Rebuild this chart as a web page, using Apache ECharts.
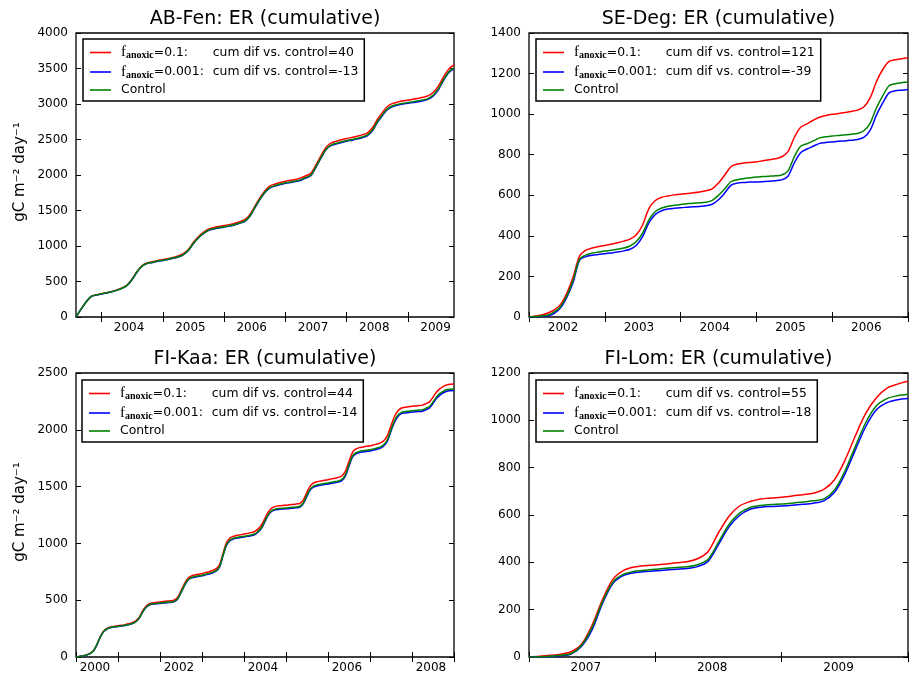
<!DOCTYPE html>
<html><head><meta charset="utf-8">
<script src="https://cdn.jsdelivr.net/npm/echarts@6/dist/echarts.min.js"></script>
<style>html,body{margin:0;padding:0;background:#fff}#c{width:912px;height:677px}</style>
</head><body><div id="c"></div><script>
// ---------------- data (monthly samples) ----------------
// AB-Fen: monthly from Aug 2003 (75 samples)
const abFenRed  = [0,111,216,292,314, 329,343,359,382,410,450,536,646,727,765,780,797, 809,824,840,859,891,952,1052,1133,1194,1239,1260,1275, 1288,1301,1317,1342,1368,1438,1559,1679,1780,1846,1873,1894, 1912,1925,1938,1959,1989,2025,2145,2276,2396,2452,2476,2496, 2514,2529,2545,2565,2591,2661,2782,2882,2968,3008,3029,3045, 3055,3068,3081,3095,3117,3168,3258,3389,3494,3550];
const abFenBlue = [0,110,215,289,311, 325,339,354,377,403,443,528,638,718,755,769,785, 797,811,827,844,876,936,1036,1116,1176,1220,1240,1255, 1267,1280,1295,1319,1344,1414,1534,1654,1753,1818,1845,1865, 1883,1895,1907,1927,1957,1992,2112,2242,2361,2416,2439,2459, 2476,2490,2505,2525,2550,2620,2740,2839,2924,2964,2984,2999, 3009,3020,3033,3046,3068,3118,3208,3337,3442,3497];
const abFenCtrl = [0,110,215,290,312, 326,340,355,378,405,445,530,640,720,757,772,788, 800,814,830,848,880,940,1040,1120,1180,1225,1245,1260, 1272,1285,1300,1325,1350,1420,1540,1660,1760,1825,1852,1872, 1890,1902,1915,1935,1965,2000,2120,2250,2370,2425,2448,2468, 2485,2500,2515,2535,2560,2630,2750,2850,2935,2975,2995,3010, 3020,3032,3045,3058,3080,3130,3220,3350,3455,3510];

// SE-Deg: monthly from Jan 2002 (61 samples)
const seDegRed  = [0,5,10,20,35,62,118,198,300,330,340,347, 353,359,366,374,384,405,455,535,574,590,597,602, 605,609,612,616,622,632,660,700,742,754,759,762, 765,770,775,780,790,815,885,935,952,970,985,993, 999,1003,1008,1013,1020,1035,1080,1160,1220,1260,1268,1273, 1278];
const seDegBlue = [0,1,3,6,18,45,98,172,280,298,304,308, 312,316,320,326,334,354,398,465,506,524,532,536, 539,541,543,545,548,556,578,612,650,660,663,665, 665,667,669,672,676,694,760,810,828,842,856,860, 863,866,868,871,875,885,920,995,1055,1105,1115,1118, 1121];
const seDegCtrl = [0,2,5,10,25,52,105,182,285,306,315,320, 325,329,334,340,350,372,415,480,520,537,546,551, 555,558,561,563,566,575,600,632,668,677,682,686, 690,692,694,696,700,720,790,842,854,868,883,888, 892,895,898,901,905,918,955,1030,1090,1140,1150,1155, 1158];

// FI-Kaa: monthly from Jan 2000 (109 samples)
const fiKaaRed  = [0,5,11,19,32,57,112,183,231,254,264,270, 275,279,285,292,301,317,347,403,446,470,477,481, 485,488,492,495,501,524,582,646,693,713,722,728, 735,743,751,761,776,812,912,1008,1048,1063,1071,1077, 1082,1088,1095,1104,1126,1162,1222,1280,1313,1326,1331,1334, 1336,1340,1343,1347,1353,1386,1452,1509,1534,1544,1550,1556, 1561,1568,1574,1581,1596,1636,1722,1802,1831,1843,1849,1855, 1859,1867,1875,1885,1906,1951,2037,2117,2167,2192,2198,2203, 2207,2210,2214,2217,2231,2246,2287,2332,2362,2383,2397,2402, 2404];
const fiKaaBlue = [0,5,10,18,29,54,109,179,227,249,259,265, 268,272,277,284,292,308,338,393,435,458,465,469, 472,475,478,480,486,508,566,629,676,696,704,709, 715,723,731,740,755,790,890,984,1024,1039,1046,1052, 1056,1062,1068,1076,1098,1133,1193,1251,1283,1296,1299,1302, 1304,1307,1310,1313,1319,1352,1416,1473,1497,1507,1513,1518, 1523,1529,1534,1540,1555,1595,1680,1760,1788,1799,1805,1810, 1814,1821,1829,1839,1859,1903,1988,2068,2118,2142,2148,2152, 2156,2158,2161,2164,2177,2192,2232,2277,2306,2326,2340,2344, 2346];
const fiKaaCtrl = [0,5,10,18,30,55,110,180,228,250,260,266, 270,274,279,286,294,310,340,395,438,461,468,472, 475,478,481,484,490,512,570,633,680,700,708,714, 720,728,736,745,760,795,895,990,1030,1045,1052,1058, 1062,1068,1075,1083,1105,1140,1200,1258,1290,1303,1307,1310, 1312,1315,1318,1321,1327,1360,1425,1482,1506,1516,1522,1527, 1532,1538,1544,1550,1565,1605,1690,1770,1798,1810,1816,1821, 1825,1832,1840,1850,1870,1915,2000,2080,2130,2154,2160,2164, 2168,2171,2174,2177,2190,2205,2245,2290,2320,2340,2354,2358, 2360];

// FI-Lom: monthly from Jan 2007 (37 samples)
const fiLomRed  = [0,3,7,12,22,55,135,245,330,366,380,386, 389,393,398,402,415,445,525,595,638,657,668,672, 675,680,686,692,708,748,830,935,1030,1095,1136,1153, 1165];
const fiLomBlue = [0,1,2,5,12,45,115,228,312,345,356,361, 364,368,371,374,382,404,475,550,598,624,633,636, 638,641,645,650,660,695,772,875,975,1045,1075,1087, 1092];
const fiLomCtrl = [0,1,3,7,15,50,125,235,318,350,362,367, 371,375,378,381,390,412,485,560,608,632,640,644, 646,650,655,660,668,705,785,890,992,1062,1092,1104, 1110];

// cumulative differences shown in the legends
const redDif  = [40, 121, 44, 55];
const blueDif = [-13, -39, -14, -18];
const siteNames = ['AB-Fen', 'SE-Deg', 'FI-Kaa', 'FI-Lom'];

// axis ticks (year starts) and year labels
const abFenTickYears = [2004,2005,2006,2007,2008,2009];
const abFenLabelYears = [2004,2005,2006,2007,2008,2009];
const seDegTickYears = [2002,2003,2004,2005,2006,2007];
const seDegLabelYears = [2002,2003,2004,2005,2006];
const fiKaaTickYears = [2000,2001,2002,2003,2004,2005,2006,2007,2008,2009];
const fiKaaLabelYears = [2000,2002,2004,2006,2008];
const fiLomTickYears = [2007,2008,2009,2010];
const fiLomLabelYears = [2007,2008,2009];

// --------------------------------------------------------------------------
const FONT = 'DejaVu Sans';
function monthGrid(startYear, startMonthIndex, n) {
  const a = [];
  for (let k = 0; k < n; k++) a.push(startYear + (startMonthIndex + k) / 12);
  return a;
}
function pairs(t, v) { return v.map((y, i) => [t[i], y]); }

const panels = [
  { grid:{left:76, top:33, width:378, height:284}, xMin:2003+7/12, xMax:2009.75, ticks:abFenTickYears, labels:abFenLabelYears,
    yMax:4000, yStep:500, t:monthGrid(2003,7,75), red:abFenRed, blue:abFenBlue, ctrl:abFenCtrl, leg:{left:83, top:39}, ylabel:true },
  { grid:{left:529, top:33, width:379, height:284}, xMin:2002, xMax:2007, ticks:seDegTickYears, labels:seDegLabelYears,
    yMax:1400, yStep:200, t:monthGrid(2002,0,61), red:seDegRed, blue:seDegBlue, ctrl:seDegCtrl, leg:{left:536, top:39}, ylabel:false },
  { grid:{left:76, top:373, width:378, height:284}, xMin:2000, xMax:2009, ticks:fiKaaTickYears, labels:fiKaaLabelYears,
    yMax:2500, yStep:500, t:monthGrid(2000,0,109), red:fiKaaRed, blue:fiKaaBlue, ctrl:fiKaaCtrl, leg:{left:82, top:380}, ylabel:true },
  { grid:{left:529, top:373, width:379, height:284}, xMin:2007, xMax:2010, ticks:fiLomTickYears, labels:fiLomLabelYears,
    yMax:1200, yStep:200, t:monthGrid(2007,0,37), red:fiLomRed, blue:fiLomBlue, ctrl:fiLomCtrl, leg:{left:536, top:380}, ylabel:false }
];

const grids = [], xAxes = [], yAxes = [], series = [], legends = [], graphics = [];
const legendText = {};
const rich = {
  p1: {width: 5, fontSize: 12.4, lineHeight: 16},
  p2: {width: 5, fontSize: 12.4, lineHeight: 16},
  f: {fontFamily: 'Liberation Serif', fontSize: 15, lineHeight: 16, color: '#000'},
  s: {fontFamily: 'Liberation Serif', fontSize: 10, lineHeight: 10, verticalAlign: 'bottom', fontWeight: 'bold', color: '#000'},
  v: {fontFamily: FONT, fontSize: 12.4, lineHeight: 16, width: 59, color: '#000'},
  t: {fontFamily: FONT, fontSize: 12.4, lineHeight: 16, color: '#000'}
};

panels.forEach((p, i) => {
  grids.push(Object.assign({show: true, borderColor: '#000', borderWidth: 1.3, backgroundColor: '#fff', containLabel: false}, p.grid));
  const tickStyle = {show: true, inside: true, length: 5, lineStyle: {color: '#000', width: 1}};
  xAxes.push({
    gridIndex: i, type: 'value', position: 'bottom', min: p.xMin, max: p.xMax,
    axisLine: {show: false}, splitLine: {show: false},
    axisTick: Object.assign({customValues: p.ticks}, tickStyle),
    axisLabel: {customValues: p.labels.map(y => y + 0.45), formatter: v => String(Math.floor(v)),
      color: '#000', fontFamily: FONT, fontSize: 12, margin: 5}
  });
  xAxes.push({
    gridIndex: i, type: 'value', position: 'top', min: p.xMin, max: p.xMax,
    axisLine: {show: false}, splitLine: {show: false}, axisLabel: {show: false},
    axisTick: Object.assign({customValues: p.ticks}, tickStyle)
  });
  yAxes.push({
    gridIndex: i, type: 'value', position: 'left', min: 0, max: p.yMax, interval: p.yStep,
    axisLine: {show: false}, splitLine: {show: false},
    axisTick: tickStyle,
    axisLabel: {color: '#000', fontFamily: FONT, fontSize: 12, margin: 8, formatter: v => String(v)}
  });
  yAxes.push({
    gridIndex: i, type: 'value', position: 'right', min: 0, max: p.yMax, interval: p.yStep,
    axisLine: {show: false}, splitLine: {show: false}, axisLabel: {show: false},
    axisTick: tickStyle
  });
  const nR = siteNames[i] + ' r', nB = siteNames[i] + ' b', nC = siteNames[i] + ' c';
  legendText[nR] = '{p1| }{f|f}{s|anoxic}{v|=0.1:}{t|cum dif vs. control=' + redDif[i] + '}';
  legendText[nB] = '{p1| }{f|f}{s|anoxic}{v|=0.001:}{t|cum dif vs. control=' + blueDif[i] + '}';
  legendText[nC] = '{p2| }{t|Control}';
  const base = {type: 'line', xAxisIndex: 2*i, yAxisIndex: 2*i, symbol: 'none', showSymbol: false,
    smooth: 0.3, clip: true, silent: true, z: 2};
  series.push(Object.assign({}, base, {name: nR, data: pairs(p.t, p.red), lineStyle: {color: '#ff0000', width: 1.5}, itemStyle: {color: '#ff0000'}}));
  series.push(Object.assign({}, base, {name: nB, data: pairs(p.t, p.blue), lineStyle: {color: '#0000ff', width: 1.5}, itemStyle: {color: '#0000ff'}}));
  series.push(Object.assign({}, base, {name: nC, data: pairs(p.t, p.ctrl), lineStyle: {color: '#008000', width: 1.5}, itemStyle: {color: '#008000'}}));
  legends.push({
    left: p.leg.left, top: p.leg.top, orient: 'vertical', data: [nR, nB, nC],
    icon: 'rect', itemWidth: 21, itemHeight: 1.6, itemGap: 4, padding: [6, 6, 5, 7],
    backgroundColor: '#fff', borderColor: '#000', borderWidth: 1.5, borderRadius: 0,
    selectedMode: false, formatter: n => legendText[n],
    textStyle: {color: '#000', fontFamily: FONT, fontSize: 12.4, rich: rich}
  });
  graphics.push({
    type: 'text', x: p.grid.left + p.grid.width / 2, y: p.grid.top - 14,
    style: {text: siteNames[i] + ': ER (cumulative)', fontFamily: FONT, fontSize: 19, fill: '#000', align: 'center', verticalAlign: 'middle'}
  });
  if (p.ylabel) {
    graphics.push({
      type: 'text', x: 20, y: p.grid.top + p.grid.height / 2 - 3, rotation: Math.PI / 2,
      style: {text: 'gC m\u207B\u00B2 day\u207B\u00B9', fontFamily: FONT, fontSize: 15, fill: '#000', align: 'center', verticalAlign: 'middle'}
    });
  }
});

const chart = echarts.init(document.getElementById('c'), null, {renderer: 'canvas'});
chart.setOption({
  animation: false,
  backgroundColor: '#fff',
  grid: grids, xAxis: xAxes, yAxis: yAxes, series: series, legend: legends,
  graphic: {elements: graphics}
});
</script></body></html>
